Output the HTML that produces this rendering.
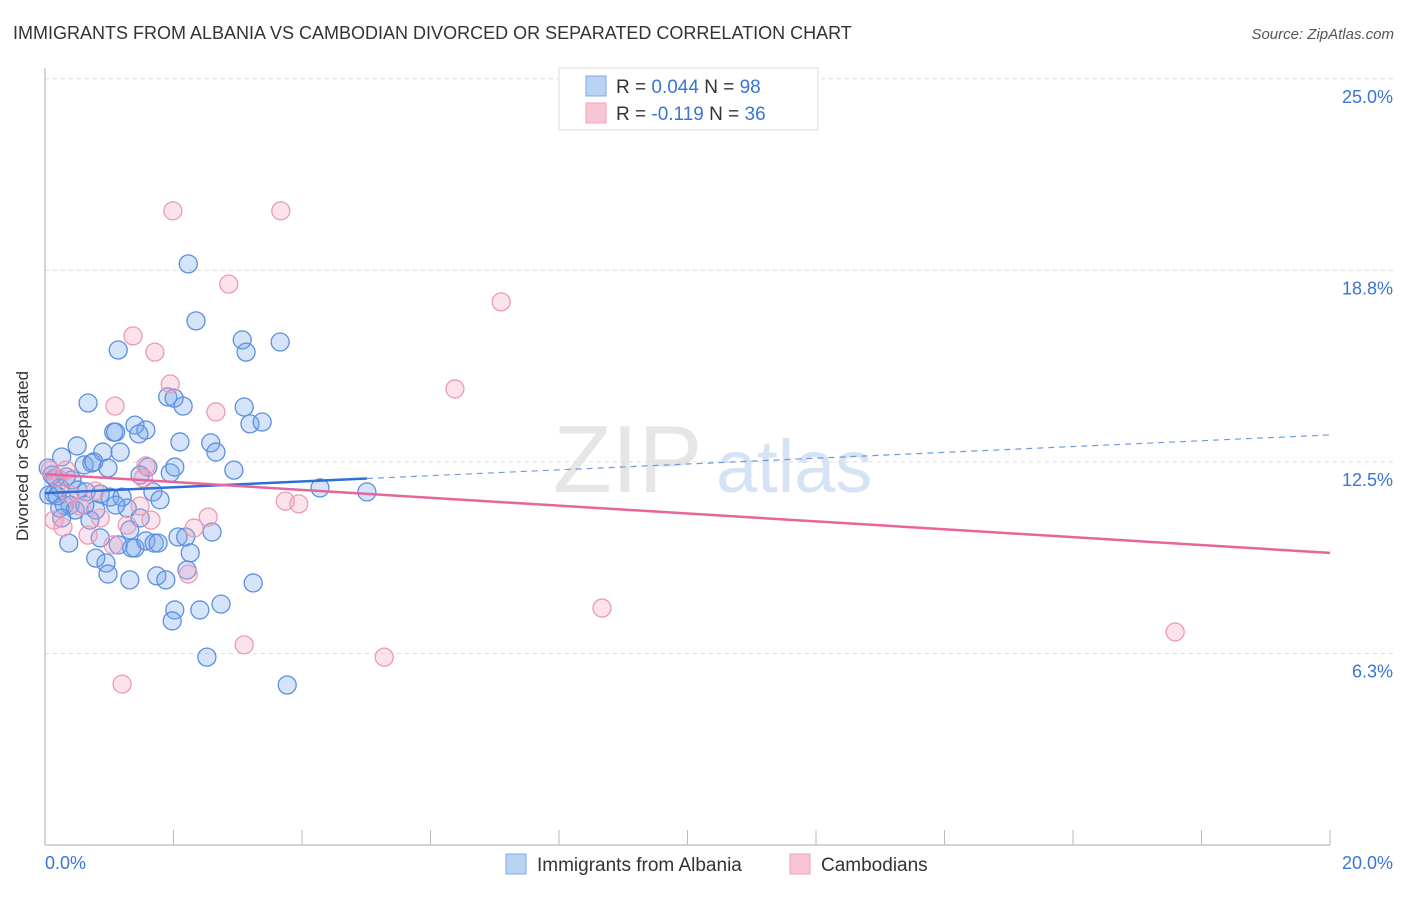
<!DOCTYPE html>
<html><head><meta charset="utf-8"><style>
body{margin:0;background:#fff;font-family:"Liberation Sans",sans-serif;}
svg text{font-family:"Liberation Sans",sans-serif;}
</style></head><body>
<svg id="chart" width="1406" height="892" xmlns="http://www.w3.org/2000/svg">
<text x="13" y="39" font-size="18" fill="#333">IMMIGRANTS FROM ALBANIA VS CAMBODIAN DIVORCED OR SEPARATED CORRELATION CHART</text>
<text x="1394" y="39" font-size="15" fill="#555" font-style="italic" text-anchor="end">Source: ZipAtlas.com</text>
<g>
<text x="553" y="492" font-size="96" font-family="Liberation Serif,serif" fill="#e6e6e6">ZIP</text>
<text x="716" y="492" font-size="74" fill="#d5e3f5">atlas</text>
</g>
<g id="grid"></g>
<line x1="45" y1="68" x2="45" y2="845" stroke="#bbb" stroke-width="1.2"/>
<line x1="45" y1="845" x2="1330" y2="845" stroke="#bbb" stroke-width="1.2"/>
<g id="xticks"></g>
<text x="28" y="456" font-size="17" fill="#333" text-anchor="middle" transform="rotate(-90 28 456)">Divorced or Separated</text>
<text x="45" y="869" font-size="18" fill="#3a75d4">0.0%</text>
<text x="1393" y="869" font-size="18" fill="#3a75d4" text-anchor="end">20.0%</text>
<g id="pts"></g>
<g id="trends"></g>
<g>
<rect x="559" y="68" width="259" height="62" fill="#fff" stroke="#ddd"/>
<rect x="586" y="76" width="20" height="20" fill="#b9d3f5" stroke="#7fa8e6"/>
<rect x="586" y="103" width="20" height="20" fill="#f8c5d4" stroke="#eea3bb"/>
<text x="616" y="93" font-size="19" fill="#333">R = <tspan fill="#3a75d4">0.044</tspan>   N = <tspan fill="#3a75d4">98</tspan></text>
<text x="616" y="120" font-size="19" fill="#333">R =  <tspan fill="#3a75d4">-0.119</tspan>   N = <tspan fill="#3a75d4">36</tspan></text>
</g>
<g>
<rect x="506" y="854" width="20" height="20" fill="#b9d3f5" stroke="#7fa8e6"/>
<text x="537" y="871" font-size="19" fill="#333">Immigrants from Albania</text>
<rect x="790" y="854" width="20" height="20" fill="#f8c5d4" stroke="#eea3bb"/>
<text x="821" y="871" font-size="19" fill="#333">Cambodians</text>
</g>
</svg>
<script>
const yTicks=[25.0,18.75,12.5,6.25];
const yTickLabels=["25.0%","18.8%","12.5%","6.3%"];
const xTicks=[0,2,4,6,8,10,12,14,16,18,20];
const blueX=[2.23,2.35,1.14,3.07,3.13,3.66,0.67,1.91,2.01,2.15,3.10,3.19,3.38,1.40,1.07,1.10,1.57,1.46,2.10,2.58,0.50,2.66,0.90,1.17,0.26,0.61,0.73,0.76,0.98,1.60,1.95,2.02,2.94,0.05,0.16,0.33,0.42,0.23,0.51,0.64,0.86,1.01,1.20,1.68,1.79,0.14,4.28,5.01,0.30,0.39,0.23,0.47,0.79,1.28,1.48,0.26,0.70,1.32,2.60,2.07,2.19,0.86,0.37,1.14,1.35,1.40,1.57,1.70,1.76,0.79,0.95,2.26,0.98,1.32,1.74,1.88,2.21,3.24,2.74,2.41,2.02,1.98,2.52,3.77,0.06,0.19,0.62,1.10,0.11,1.48];
const blueY=[18.96,17.10,16.15,16.48,16.08,16.41,14.42,14.62,14.58,14.32,14.29,13.74,13.80,13.70,13.47,13.47,13.54,13.41,13.15,13.12,13.02,12.82,12.82,12.82,12.66,12.40,12.46,12.50,12.30,12.33,12.14,12.33,12.23,12.30,11.97,12.01,11.91,11.65,11.58,11.52,11.45,11.35,11.35,11.52,11.26,11.45,11.65,11.52,11.09,11.09,10.99,10.93,10.93,10.99,10.67,10.67,10.60,10.28,10.21,10.05,10.05,10.02,9.85,9.79,9.69,9.69,9.92,9.85,9.85,9.36,9.20,9.53,8.84,8.65,8.78,8.65,8.97,8.55,7.86,7.67,7.67,7.31,6.13,5.22,11.42,11.39,11.09,11.09,12.07,12.07];
const pinkX=[1.99,3.67,2.86,7.10,1.37,1.71,1.95,6.38,1.09,2.66,1.57,0.20,0.78,1.53,3.74,3.95,2.54,0.14,0.86,1.65,1.28,2.32,0.28,0.67,1.06,2.23,8.67,17.59,3.10,5.28,1.20,0.54,1.48,0.39,0.33,0.08];
const pinkY=[20.69,20.69,18.30,17.72,16.61,16.08,15.04,14.88,14.32,14.13,12.37,11.97,11.55,11.97,11.22,11.13,10.70,10.60,10.67,10.60,10.44,10.34,10.37,10.11,9.79,8.84,7.73,6.95,6.53,6.13,5.25,11.06,11.06,11.42,12.23,12.23];
const blueTrend=[11.48,13.38];
const blueSolidEnd=5.01;
const pinkTrend=[12.10,9.53];

const NS="http://www.w3.org/2000/svg";
const xs=v=>45+v/20*1285;
const ys=v=>845-v*30.65;
function mk(tag,attrs,parent){const e=document.createElementNS(NS,tag);for(const k in attrs)e.setAttribute(k,attrs[k]);parent.appendChild(e);return e;}
const grid=document.getElementById('grid');
yTicks.forEach((t,i)=>{
  const l=mk('line',{x1:45,x2:1393,y1:ys(t),y2:ys(t),stroke:'#ddd','stroke-dasharray':'4,4'},grid);
  
  
  const tx=mk('text',{x:1393,y:ys(t)+24,'font-size':18,fill:'#3a75d4','text-anchor':'end'},grid);
  tx.textContent=yTickLabels[i];
  
  
});
const xt=document.getElementById('xticks');
xTicks.forEach(t=>{
  const l=mk('line',{x1:xs(t),x2:xs(t),y1:830,y2:845,stroke:'#bbb'},xt);
  
  
});
const pts=document.getElementById('pts');
blueX.forEach((x,i)=>{
  const c=mk('circle',{cx:xs(x),cy:ys(blueY[i]),r:9,fill:'rgba(120,165,235,0.3)',stroke:'#5b8fe0','stroke-width':1.3},pts);
  
  
});
pinkX.forEach((x,i)=>{
  const c=mk('circle',{cx:xs(x),cy:ys(pinkY[i]),r:9,fill:'rgba(245,160,190,0.3)',stroke:'#ec9ab4','stroke-width':1.3},pts);
  
  
});
const tr=document.getElementById('trends');
const bAt=v=>blueTrend[0]+(blueTrend[1]-blueTrend[0])*v/20;
const b1=mk('line',{x1:xs(0),y1:ys(bAt(0)),x2:xs(blueSolidEnd),y2:ys(bAt(blueSolidEnd)),stroke:'#2e6fd8','stroke-width':2.5},tr);


const b2=mk('line',{x1:xs(blueSolidEnd),y1:ys(bAt(blueSolidEnd)),x2:xs(20),y2:ys(bAt(20)),stroke:'#6e9ae0','stroke-width':1.2,'stroke-dasharray':'6,5'},tr);


const p1=mk('line',{x1:xs(0),y1:ys(pinkTrend[0]),x2:xs(20),y2:ys(pinkTrend[1]),stroke:'#e8649a','stroke-width':2.5},tr);


</script>
</body></html>
